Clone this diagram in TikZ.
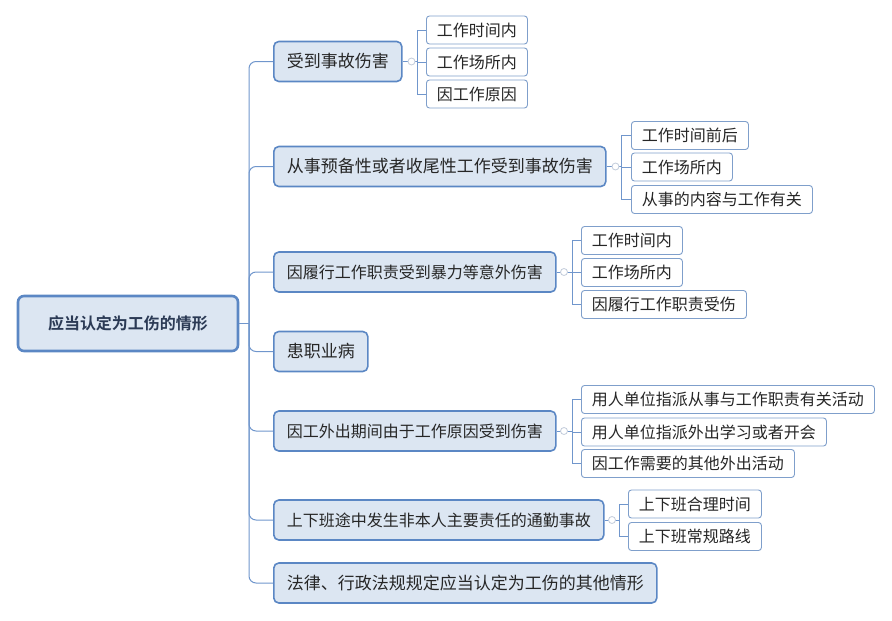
\documentclass[tikz,border=0pt]{standalone}
\usepackage{fontspec}
\setmainfont{Noto Sans CJK SC}[BoldFont={Noto Sans CJK SC Bold}]
\definecolor{lfill}{HTML}{DCE6F2}
\definecolor{lborder}{HTML}{5B87C4}
\definecolor{ltwoborder}{HTML}{7F9FCB}
\definecolor{linec}{HTML}{7096CC}
\definecolor{txt}{HTML}{262626}
\definecolor{roottxt}{HTML}{2B3A55}
\definecolor{knob}{HTML}{C3CCDB}
\begin{document}
\begin{tikzpicture}[x=1pt,y=-1pt,
  rootbox/.style={draw=lborder, line width=2.6pt, fill=lfill, rounded corners=6pt,
    minimum width=220pt, minimum height=55pt, font=\fontsize{16}{19}\selectfont\bfseries, text=roottxt},
  lonebox/.style={draw=lborder, line width=1.6pt, fill=lfill, rounded corners=5pt,
    minimum height=40pt, inner xsep=13pt, font=\fontsize{17}{20}\selectfont, text=txt, anchor=west},
  lonenarrow/.style={lonebox, font=\fontsize{16}{20}\selectfont},
  ltwobox/.style={draw=ltwoborder, line width=0.9pt, fill=white, rounded corners=3pt,
    minimum height=28pt, inner xsep=10.5pt, font=\fontsize{16}{19}\selectfont, text=txt, anchor=west},
  trunk/.style={draw=linec, line width=1pt, rounded corners=7pt},
  twig/.style={draw=linec, line width=0.8pt},
  knobst/.style={draw=knob, line width=0.8pt, fill=white, circle, inner sep=0pt, minimum size=7pt}
]
\useasboundingbox (0,0) rectangle (892,621);

% root
\node[rootbox] (root) at (128,323.5) {应当认定为工伤的情形};

% level 1
\node[lonebox] (n1) at (273,61.5) {受到事故伤害};
\node[lonebox] (n2) at (273,166.5) {从事预备性或者收尾性工作受到事故伤害};
\node[lonenarrow] (n3) at (273,272) {因履行工作职责受到暴力等意外伤害};
\node[lonebox] (n4) at (273,351.5) {患职业病};
\node[lonenarrow] (n5) at (273,431) {因工外出期间由于工作原因受到伤害};
\node[lonenarrow] (n6) at (273,520) {上下班途中发生非本人主要责任的通勤事故};
\node[lonebox] (n7) at (273,583) {法律、行政法规规定应当认定为工伤的其他情形};

% level 2
\node[ltwobox] (a1) at (426,30) {工作时间内};
\node[ltwobox] (a2) at (426,62) {工作场所内};
\node[ltwobox] (a3) at (426,94) {因工作原因};

\node[ltwobox] (b1) at (631,135.5) {工作时间前后};
\node[ltwobox] (b2) at (631,167) {工作场所内};
\node[ltwobox] (b3) at (631,199.5) {从事的内容与工作有关};

\node[ltwobox] (c1) at (581,240.5) {工作时间内};
\node[ltwobox] (c2) at (581,272.5) {工作场所内};
\node[ltwobox] (c3) at (581,304.5) {因履行工作职责受伤};

\node[ltwobox] (e1) at (581,399.5) {用人单位指派从事与工作职责有关活动};
\node[ltwobox] (e2) at (581,432) {用人单位指派外出学习或者开会};
\node[ltwobox] (e3) at (581,463.5) {因工作需要的其他外出活动};

\node[ltwobox] (f1) at (628,504) {上下班合理时间};
\node[ltwobox] (f2) at (628,536.5) {上下班常规路线};

% trunk
\coordinate (tr) at (249,323.5);
\draw[twig, line width=1pt] (root.east) -- (tr);
\foreach \n in {n1,n2,n3,n4,n5,n6,n7}{
  \draw[trunk] (tr) |- (\n.west);
}

% brackets
\coordinate (g1) at (417,61.5);
\coordinate (g2) at (621,166.5);
\coordinate (g3) at (572,272);
\coordinate (g5) at (572,431);
\coordinate (g6) at (619,520);

\draw[twig] (n1.east) -- (g1);
\foreach \c in {a1,a2,a3}{ \draw[twig] (g1) |- (\c.west); }
\draw[twig] (n2.east) -- (g2);
\foreach \c in {b1,b2,b3}{ \draw[twig] (g2) |- (\c.west); }
\draw[twig] (n3.east) -- (g3);
\foreach \c in {c1,c2,c3}{ \draw[twig] (g3) |- (\c.west); }
\draw[twig] (n5.east) -- (g5);
\foreach \c in {e1,e2,e3}{ \draw[twig] (g5) |- (\c.west); }
\draw[twig] (n6.east) -- (g6);
\foreach \c in {f1,f2}{ \draw[twig] (g6) |- (\c.west); }

% collapse knobs
\node[knobst] (k1) at (411.5,61.5) {};
\node[knobst] (k2) at (615.5,166.5) {};
\node[knobst] (k3) at (564,272) {};
\node[knobst] (k5) at (564,431) {};
\node[knobst] (k6) at (612,520) {};
\end{tikzpicture}
\end{document}
